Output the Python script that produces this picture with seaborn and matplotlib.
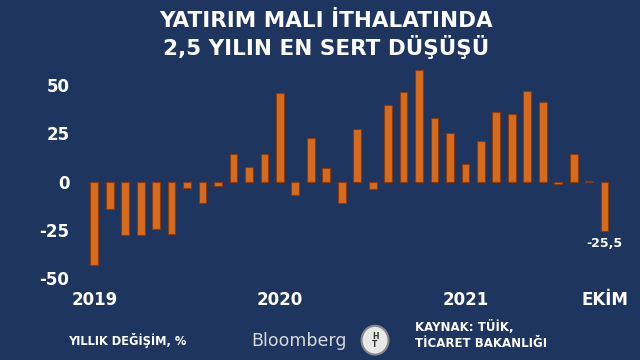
import matplotlib
matplotlib.use("Agg")
import matplotlib.pyplot as plt
from matplotlib.patches import Ellipse
import numpy as np
import pandas as pd
import seaborn as sns

# yearly change of investment goods imports, Jan 2019 - Oct 2021 (%)
months = pd.date_range("2019-01-01", "2021-10-01", freq="MS").strftime("%Y-%m").tolist()
values = [-43.0, -14.1, -27.6, -27.6, -24.7, -27.1, -3.4, -10.9, -2.2, 14.5, 7.6, 14.5,
          46.0, -6.6, 22.8, 6.9, -11.2, 27.4, -3.8, 40.0, 46.7, 58.1, 32.9, 25.2,
          9.1, 21.2, 36.2, 35.3, 47.1, 41.2, -1.2, 14.5, 0.3, -25.5]
yticks = [50, 25, 0, -25, -50]
ytick_labels = ["50", "25", "0", "-25", "-50"]
xtick_pos = [0, 12, 24, 33]
xtick_labels = ["2019", "2020", "2021", "EKİM"]
last_label = "-25,5"

df = pd.DataFrame({"month": months, "value": values})

bg = "#1e355f"
bar_col = "#d86a1c"

sns.set_style("white")
plt.rcParams['font.family'] = ['DejaVu Sans']

fig = plt.figure(figsize=(6.4, 3.6), dpi=100)
fig.patch.set_facecolor(bg)
ax = fig.add_axes([0.128, 0.200, 0.836, 0.617])
ax.set_facecolor(bg)

sns.barplot(data=df, x="month", y="value", ax=ax, color=bar_col, saturation=1,
            width=0.5, edgecolor="#8a3a0c", linewidth=0.8)

ax.set_xlim(-0.8, 33.8)
ax.set_ylim(-55, 60)
for s in ax.spines.values():
    s.set_visible(False)

ax.set_yticks(yticks, labels=ytick_labels)
ax.set_xticks(xtick_pos, labels=xtick_labels)
ax.tick_params(axis="y", length=0, pad=9, labelcolor="white", labelsize=12)
ax.tick_params(axis="x", length=0, pad=2, labelcolor="white", labelsize=12)
for t in ax.get_xticklabels() + ax.get_yticklabels():
    t.set_fontweight("bold")
ax.set_xlabel("")
ax.set_ylabel("")

ax.annotate(last_label, xy=(33, values[-1]), xytext=(0, -4), textcoords="offset points",
            ha="center", va="top", color="white", fontsize=9, fontweight="bold")

fig.text(0.51, 0.942, "YATIRIM MALI İTHALATINDA", ha="center", va="center",
         color="white", fontsize=15.5, fontweight="bold")
fig.text(0.51, 0.869, "2,5 YILIN EN SERT DÜŞÜŞÜ", ha="center", va="center",
         color="white", fontsize=15.5, fontweight="bold")

fig.text(0.106, 0.055, "YILLIK DEĞİŞİM, %", ha="left", va="center",
         color="white", fontsize=8.3, fontweight="bold")
fig.text(0.393, 0.053, "Bloomberg", ha="left", va="center",
         color="#d8d8d8", fontsize=12.5)
fig.patches.append(Ellipse((0.586, 0.055), 0.042, 0.08, transform=fig.transFigure,
                           facecolor="#e8e8e8", edgecolor="#888888", linewidth=1.5))
fig.text(0.586, 0.055, "H\nT", ha="center", va="center", color="#333333",
         fontsize=5.5, fontweight="bold", linespacing=0.9)
fig.text(0.648, 0.093, "KAYNAK: TÜİK,", ha="left", va="center",
         color="white", fontsize=8.5, fontweight="bold")
fig.text(0.648, 0.045, "TİCARET BAKANLIĞI", ha="left", va="center",
         color="white", fontsize=8.5, fontweight="bold")

fig.savefig("out.png", dpi=100, facecolor=bg)
